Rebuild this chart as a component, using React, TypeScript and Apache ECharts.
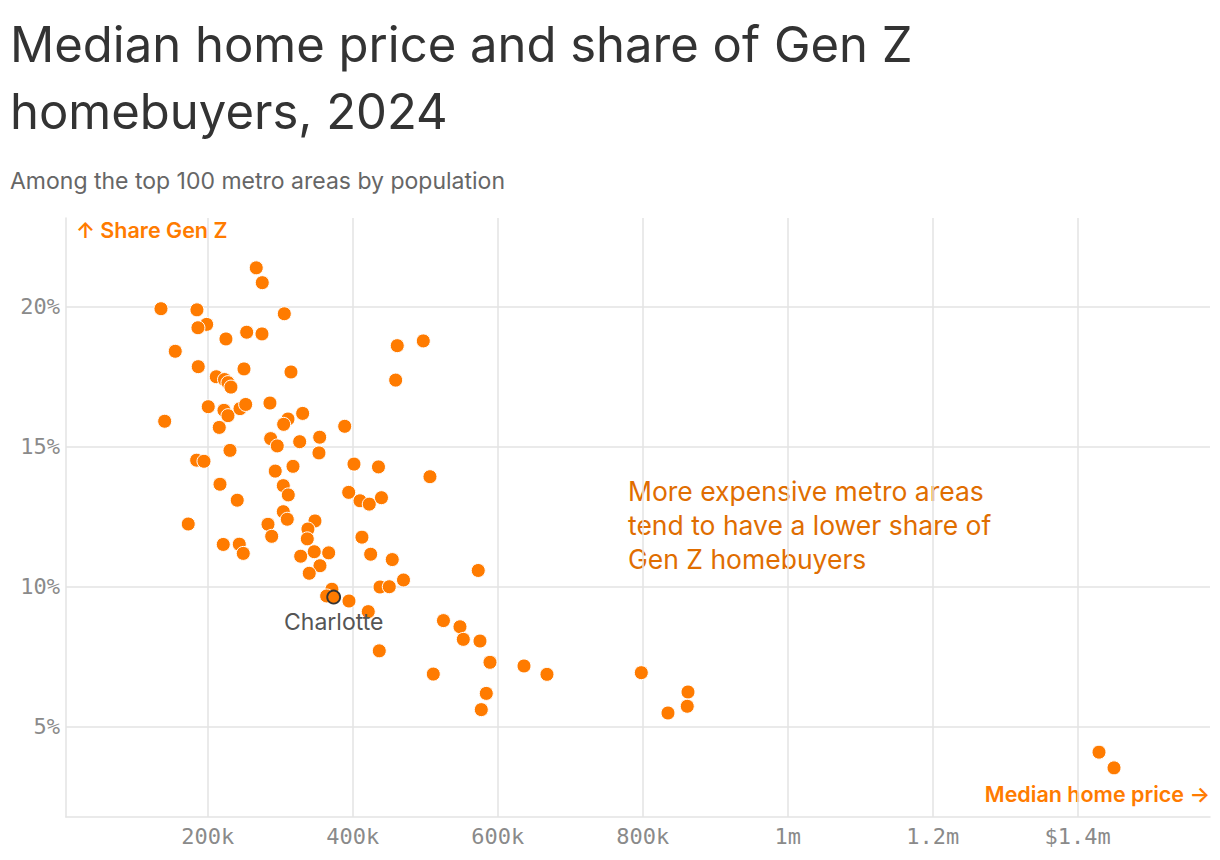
import React, { useEffect, useRef } from "react";
import * as echarts from "echarts";

// Median home price (thousands of dollars) and share of Gen Z homebuyers (%)
const medianPriceK = [
  267.0, 275.3, 135.6, 185.2, 305.7, 198.6, 186.6, 225.2, 253.8, 274.9,
  461.5, 497.4, 155.3, 187.0, 250.1, 314.9, 459.3, 211.9, 223.2, 228.0,
  232.1, 200.8, 222.5, 228.0, 244.6, 252.4, 285.9, 140.7, 216.0, 310.8,
  304.8, 331.0, 389.0, 286.9, 296.0, 326.9, 354.5, 353.5, 230.8, 184.8,
  194.9, 293.2, 317.7, 401.8, 435.6, 506.6, 394.5, 410.1, 422.9, 439.7,
  412.8, 424.8, 454.6, 573.2, 217.0, 240.8, 304.3, 311.2, 173.2, 304.3,
  309.8, 283.2, 288.3, 348.0, 338.3, 337.4, 221.5, 243.6, 249.1, 328.3,
  347.0, 366.9, 354.9, 340.1, 470.1, 437.7, 450.5, 371.4, 364.1, 394.9,
  421.5, 525.2, 548.0, 552.6, 575.6, 589.4, 511.2, 636.3, 668.0, 798.1,
  584.3, 577.4, 862.5, 861.5, 834.9, 436.7, 1429.4, 1450.1,
];
const shareGenZ = [
  21.39, 20.86, 19.93, 19.89, 19.75, 19.37, 19.25, 18.85, 19.09, 19.03,
  18.61, 18.78, 18.41, 17.86, 17.78, 17.67, 17.38, 17.5, 17.4, 17.29,
  17.13, 16.43, 16.3, 16.11, 16.36, 16.51, 16.56, 15.91, 15.69, 15.99,
  15.8, 16.19, 15.73, 15.29, 15.03, 15.18, 15.34, 14.78, 14.87, 14.52,
  14.48, 14.13, 14.3, 14.38, 14.28, 13.93, 13.37, 13.07, 12.95, 13.18,
  11.77, 11.16, 10.97, 10.58, 13.66, 13.09, 13.61, 13.28, 12.24, 12.68,
  12.41, 12.23, 11.8, 12.35, 12.06, 11.71, 11.51, 11.52, 11.19, 11.09,
  11.25, 11.21, 10.75, 10.48, 10.24, 9.99, 10.0, 9.91, 9.67, 9.49,
  9.11, 8.79, 8.57, 8.12, 8.06, 7.3, 6.88, 7.17, 6.87, 6.93,
  6.19, 5.61, 6.24, 5.73, 5.49, 7.71, 4.09, 3.53,
];
const highlightName = "Charlotte";
const highlightPriceK = 373.8;
const highlightShare = 9.63;

const xTickValues = [200, 400, 600, 800, 1000, 1200, 1400];
const xTickLabels = ["200k", "400k", "600k", "800k", "1m", "1.2m", "$1.4m"];
const yTickValues = [5, 10, 15, 20];
const yTickLabels = ["5%", "10%", "15%", "20%"];

const titleLines = ["Median home price and share of Gen Z", "homebuyers, 2024"];
const subtitle = "Among the top 100 metro areas by population";
const yAxisName = "↑ Share Gen Z";
const xAxisName = "Median home price →";
const annotationLines = [
  "More expensive metro areas",
  "tend to have a lower share of",
  "Gen Z homebuyers",
];

const ORANGE = "#ff7b00";
const GRID = "#e3e3e3";
const SANS = "Inter, 'Noto Sans', sans-serif";
const MONO = "'DejaVu Sans Mono', monospace";

export default function App() {
  const ref = useRef<HTMLDivElement>(null);
  useEffect(() => {
    document.body.style.margin = "0";
    if (!ref.current) return;
    const chart = echarts.init(ref.current, undefined, { renderer: "svg" });
    const points = medianPriceK.map((x, i) => [x, shareGenZ[i]]);
    const option: any = {
      animation: false,
      backgroundColor: "#ffffff",
      grid: { left: 66, right: 10, top: 218, bottom: 43, containLabel: false },
      xAxis: {
        type: "value",
        min: 4.6,
        max: 1582.5,
        axisLine: { show: true, lineStyle: { color: GRID, width: 1.5 } },
        axisTick: { show: false, customValues: xTickValues },
        splitLine: { show: true, lineStyle: { color: GRID, width: 1.5 } },
        axisLabel: {
          customValues: xTickValues,
          formatter: (v: number) => xTickLabels[xTickValues.indexOf(v)] ?? "",
          color: "#8a8a8a",
          fontFamily: MONO,
          fontSize: 22,
          margin: 8,
        },
      },
      yAxis: {
        type: "value",
        min: 1.775,
        max: 23.17,
        axisLine: { show: true, lineStyle: { color: GRID, width: 1.5 } },
        axisTick: { show: false, customValues: yTickValues },
        splitLine: { show: true, lineStyle: { color: GRID, width: 1.5 } },
        axisLabel: {
          customValues: yTickValues,
          formatter: (v: number) => yTickLabels[yTickValues.indexOf(v)] ?? "",
          color: "#8a8a8a",
          fontFamily: MONO,
          fontSize: 22,
          margin: 6,
        },
      },
      series: [
        {
          type: "scatter",
          data: points,
          symbolSize: 14,
          itemStyle: { color: ORANGE, borderColor: "#ffffff", borderWidth: 1, opacity: 1 },
          silent: true,
          z: 2,
        },
        {
          type: "scatter",
          data: [[highlightPriceK, highlightShare]],
          symbolSize: 13,
          itemStyle: { color: ORANGE, borderColor: "#333333", borderWidth: 1.8, opacity: 1 },
          label: {
            show: true,
            position: "bottom",
            distance: 6,
            formatter: highlightName,
            color: "#555555",
            fontFamily: SANS,
            fontSize: 23,
          },
          silent: true,
          z: 3,
        },
      ],
      graphic: [
        {
          type: "text",
          left: 10,
          top: 11,
          style: {
            text: titleLines.join("\n"),
            fill: "#333333",
            font: `400 49px ${SANS}`,
            lineHeight: 67,
          },
        },
        {
          type: "text",
          left: 10,
          top: 169,
          style: { text: subtitle, fill: "#666666", font: `400 23px ${SANS}` },
        },
        {
          type: "text",
          left: 76,
          top: 219,
          style: { text: yAxisName, fill: ORANGE, font: `600 21.5px ${SANS}` },
        },
        {
          type: "text",
          right: 10,
          top: 783,
          style: { text: xAxisName, fill: ORANGE, font: `600 21.5px ${SANS}` },
        },
        {
          type: "text",
          left: 628,
          top: 474,
          style: {
            text: annotationLines.join("\n"),
            fill: "#e06d00",
            font: `400 26.5px ${SANS}`,
            lineHeight: 34,
          },
        },
      ],
    };
    chart.setOption(option);
    return () => chart.dispose();
  }, []);
  return <div ref={ref} style={{ width: 1220, height: 860 }} />;
}
